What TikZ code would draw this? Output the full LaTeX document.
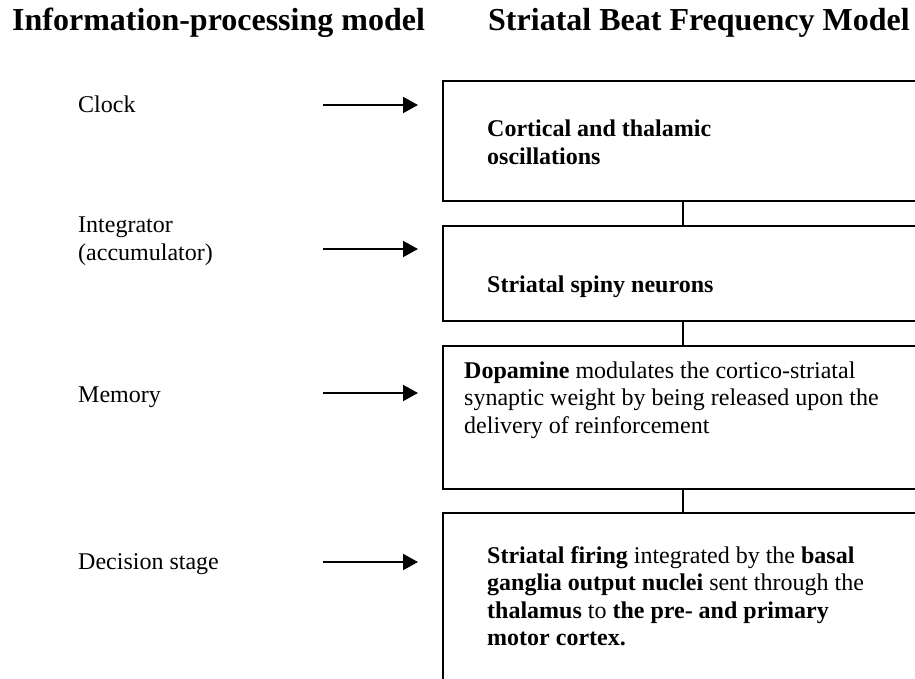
\documentclass[tikz,border=0pt]{standalone}
\usepackage{fontspec}
\setmainfont{Liberation Serif}
\usetikzlibrary{arrows.meta}
\newcommand{\tlines}[1]{\begin{tabular}[t]{@{}l@{}}#1\end{tabular}}
\begin{document}
\begin{tikzpicture}[x=1pt,y=-1pt,
  box/.style={draw, line width=2pt, inner sep=0pt, outer sep=0pt, anchor=north west, minimum width=480.6pt},
  txt/.style={anchor=base west, inner sep=0pt, font=\fontsize{24}{27.6}\selectfont},
  ttl/.style={anchor=base west, inner sep=0pt, font=\fontsize{32}{36}\selectfont\bfseries},
  arr/.style={line width=2pt, -{Triangle[length=15pt,width=16pt]}},
  link/.style={line width=2pt}]
\useasboundingbox (0,0) rectangle (915,679);
\clip (0,0) rectangle (915,679);

% titles
\node[ttl] (h1) at (12,31) {Information-processing model};
\node[ttl] (h2) at (488,31) {Striatal Beat Frequency Model};

% boxes
\node[box, minimum height=120.3pt] (b1) at (442.7,80.7) {};
\node[box, minimum height=95pt] (b2) at (442.7,225.5) {};
\node[box, minimum height=143.3pt] (b3) at (442.7,345.7) {};
\node[box, minimum height=180pt] (b4) at (442.7,513.3) {};

\draw[link] (b1.south) -- (b2.north);
\draw[link] (b2.south) -- (b3.north);
\draw[link] (b3.south) -- (b4.north);

% left labels
\node[txt] (l1) at (78,113) {Clock};
\node[txt] (l2) at (78,233) {\tlines{Integrator\\(accumulator)}};
\node[txt] (l3) at (78,402) {Memory};
\node[txt] (l4) at (78,569) {Decision stage};

% arrows
\coordinate (s1) at (322.7,105);  \coordinate (e1) at (418,105);
\coordinate (s2) at (322.7,249);  \coordinate (e2) at (418,249);
\coordinate (s3) at (322.7,393);  \coordinate (e3) at (418,393);
\coordinate (s4) at (322.7,562);  \coordinate (e4) at (418,562);
\draw[arr] (s1) -- (e1);
\draw[arr] (s2) -- (e2);
\draw[arr] (s3) -- (e3);
\draw[arr] (s4) -- (e4);

% box texts
\node[txt] (t1) at (487,137) {\tlines{\textbf{Cortical and thalamic}\\\textbf{oscillations}}};
\node[txt] (t2) at (487,292) {\textbf{Striatal spiny neurons}};
\node[txt] (t3) at (464,378) {\tlines{\textbf{Dopamine} modulates the cortico-striatal\\synaptic weight by being released upon the\\delivery of reinforcement}};
\node[txt] (t4) at (487,563) {\tlines{\textbf{Striatal firing} integrated by the \textbf{basal}\\\textbf{ganglia output nuclei} sent through the\\\textbf{thalamus} to \textbf{the pre- and primary}\\\textbf{motor cortex.}}};
\end{tikzpicture}
\end{document}
